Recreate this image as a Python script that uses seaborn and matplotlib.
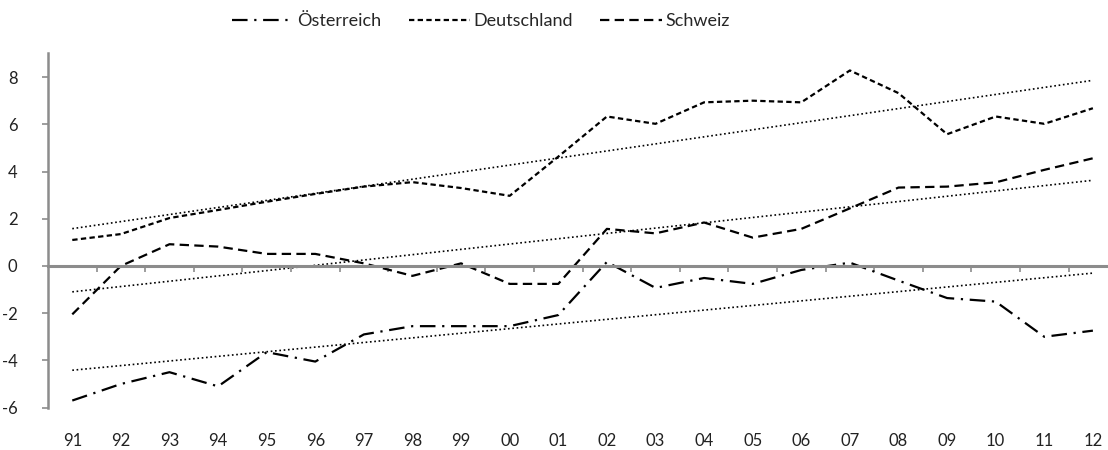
import numpy as np
import pandas as pd
import matplotlib
matplotlib.use("Agg")
import matplotlib.pyplot as plt
import seaborn as sns

years = ["91", "92", "93", "94", "95", "96", "97", "98", "99", "00", "01",
         "02", "03", "04", "05", "06", "07", "08", "09", "10", "11", "12"]
oesterreich = [-5.7, -5.0, -4.5, -5.1, -3.65, -4.05, -2.9, -2.55, -2.55, -2.55, -2.08,
               0.17, -0.93, -0.51, -0.76, -0.17, 0.14, -0.62, -1.36, -1.51, -3.0, -2.74]
deutschland = [1.1, 1.35, 2.03, 2.37, 2.72, 3.05, 3.36, 3.55, 3.3, 2.97, 4.63,
               6.33, 6.02, 6.93, 7.0, 6.93, 8.28, 7.32, 5.58, 6.33, 6.02, 6.68]
schweiz = [-2.05, 0.0, 0.92, 0.82, 0.51, 0.51, 0.11, -0.42, 0.11, -0.76, -0.76,
           1.57, 1.38, 1.84, 1.2, 1.57, 2.44, 3.32, 3.36, 3.54, 4.07, 4.56]
names = ["Österreich", "Deutschland", "Schweiz"]

sns.set_theme(style="white")
plt.rcParams["font.family"] = ["Lato", "DejaVu Sans"]
plt.rcParams["axes.unicode_minus"] = False

fig = plt.figure(figsize=(11.08, 4.5), dpi=100)
ax = fig.add_axes([0.0433, 0.0942, 0.965, 0.787])

xs = np.arange(len(years))
series = [oesterreich, deutschland, schweiz]
styles = [(0, (7, 3, 1, 3)), (0, (2.4, 1.5)), (0, (4.2, 2.4))]
for name, vals, ls in zip(names, series, styles):
    df = pd.DataFrame({"x": xs, "y": vals})
    sns.lineplot(data=df, x="x", y="y", ax=ax, color="black", linewidth=1.6,
                 linestyle=ls, label=name)
    sns.regplot(data=df, x="x", y="y", ax=ax, scatter=False, ci=None, truncate=True,
                line_kws=dict(color="black", linewidth=1.2, linestyle=(0, (1, 1.6))))

ax.set_xlim(-0.5, len(years) - 0.5)
ax.set_ylim(-6, 9)
ax.set_yticks(np.arange(-6, 9, 2))
ax.set_xlabel("")
ax.set_ylabel("")

grey = "#8c8c8c"
for s in ["top", "right"]:
    ax.spines[s].set_visible(False)
ax.spines["left"].set_color(grey)
ax.spines["left"].set_linewidth(1.8)
ax.spines["bottom"].set_position(("data", 0))
ax.spines["bottom"].set_color(grey)
ax.spines["bottom"].set_linewidth(2.2)

ax.set_xticks(np.arange(len(years) - 1) + 0.5)
ax.set_xticklabels([])
ax.tick_params(axis="x", direction="out", length=4, width=1.2, color=grey, bottom=True)
ax.tick_params(axis="y", direction="out", length=4, width=1.2, color=grey, left=True,
               labelsize=12, pad=18, labelcolor="#222222")

sec = ax.secondary_xaxis(0.0)
sec.set_xticks(xs)
sec.set_xticklabels(years)
sec.tick_params(axis="x", length=0, pad=18, labelsize=12, labelcolor="#222222")
sec.spines["bottom"].set_visible(False)

ax.legend(loc="upper center", bbox_to_anchor=(0.405, 1.16), ncol=3, frameon=False,
          fontsize=13, handlelength=3.4, handletextpad=0.2, columnspacing=1.5)

fig.savefig("out.png", dpi=100)
